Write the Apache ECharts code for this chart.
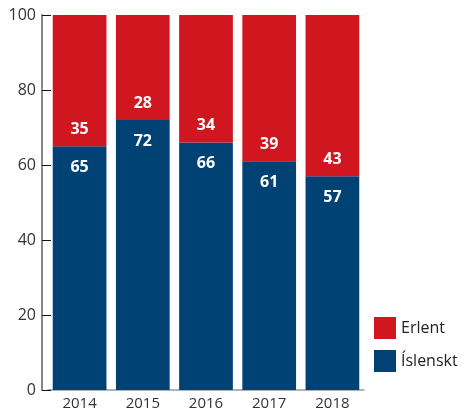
<!DOCTYPE html>
<html><head><meta charset="utf-8">
<script src="https://cdn.jsdelivr.net/npm/echarts@6/dist/echarts.min.js"></script>
<style>html,body{margin:0;padding:0;background:#fff}#c{width:473px;height:412px}</style>
</head><body><div id="c"></div>
<script>
var years = ['2014','2015','2016','2017','2018'];
var islenskt = [65,72,66,61,57];
var erlent = [35,28,34,39,43];
var yTicks = [0,20,40,60,80,100];

var font = '"Open Sans", "Noto Sans", sans-serif';
var chart = echarts.init(document.getElementById('c'));
chart.setOption({
  animation:false,
  textStyle:{fontFamily:font},
  grid:{left:48,right:109,top:15,bottom:22},
  legend:{
    orient:'vertical', left:369, top:312, itemWidth:22, itemHeight:22, itemGap:11,
    icon:'rect', data:['Erlent','Íslenskt'],
    textStyle:{fontSize:16,color:'#222',fontFamily:font}
  },
  xAxis:{
    type:'category', data:years,
    axisLine:{lineStyle:{color:'#999',width:1.5}},
    axisTick:{show:false},
    axisLabel:{fontSize:15,color:'#333',margin:6,fontFamily:font}
  },
  yAxis:{
    type:'value', min:yTicks[0], max:yTicks[yTicks.length-1], interval:20, offset:6,
    splitLine:{show:false},
    axisLine:{show:true,lineStyle:{color:'#888',width:2}},
    axisTick:{show:true,inside:true,length:9,lineStyle:{color:'#111',width:1}},
    axisLabel:{fontSize:16,color:'#333',margin:6,fontFamily:font}
  },
  series:[
    {name:'Íslenskt',type:'bar',stack:'a',data:islenskt,barCategoryGap:'15%',
     itemStyle:{color:'#004274'},
     label:{show:true,position:'insideTop',distance:13,color:'#fff',fontWeight:'bold',fontSize:16,fontFamily:font}},
    {name:'Erlent',type:'bar',stack:'a',data:erlent,barCategoryGap:'15%',
     itemStyle:{color:'#D0171F'},
     label:{show:true,position:'insideBottom',distance:9,color:'#fff',fontWeight:'bold',fontSize:16,fontFamily:font}}
  ]
});
</script></body></html>
